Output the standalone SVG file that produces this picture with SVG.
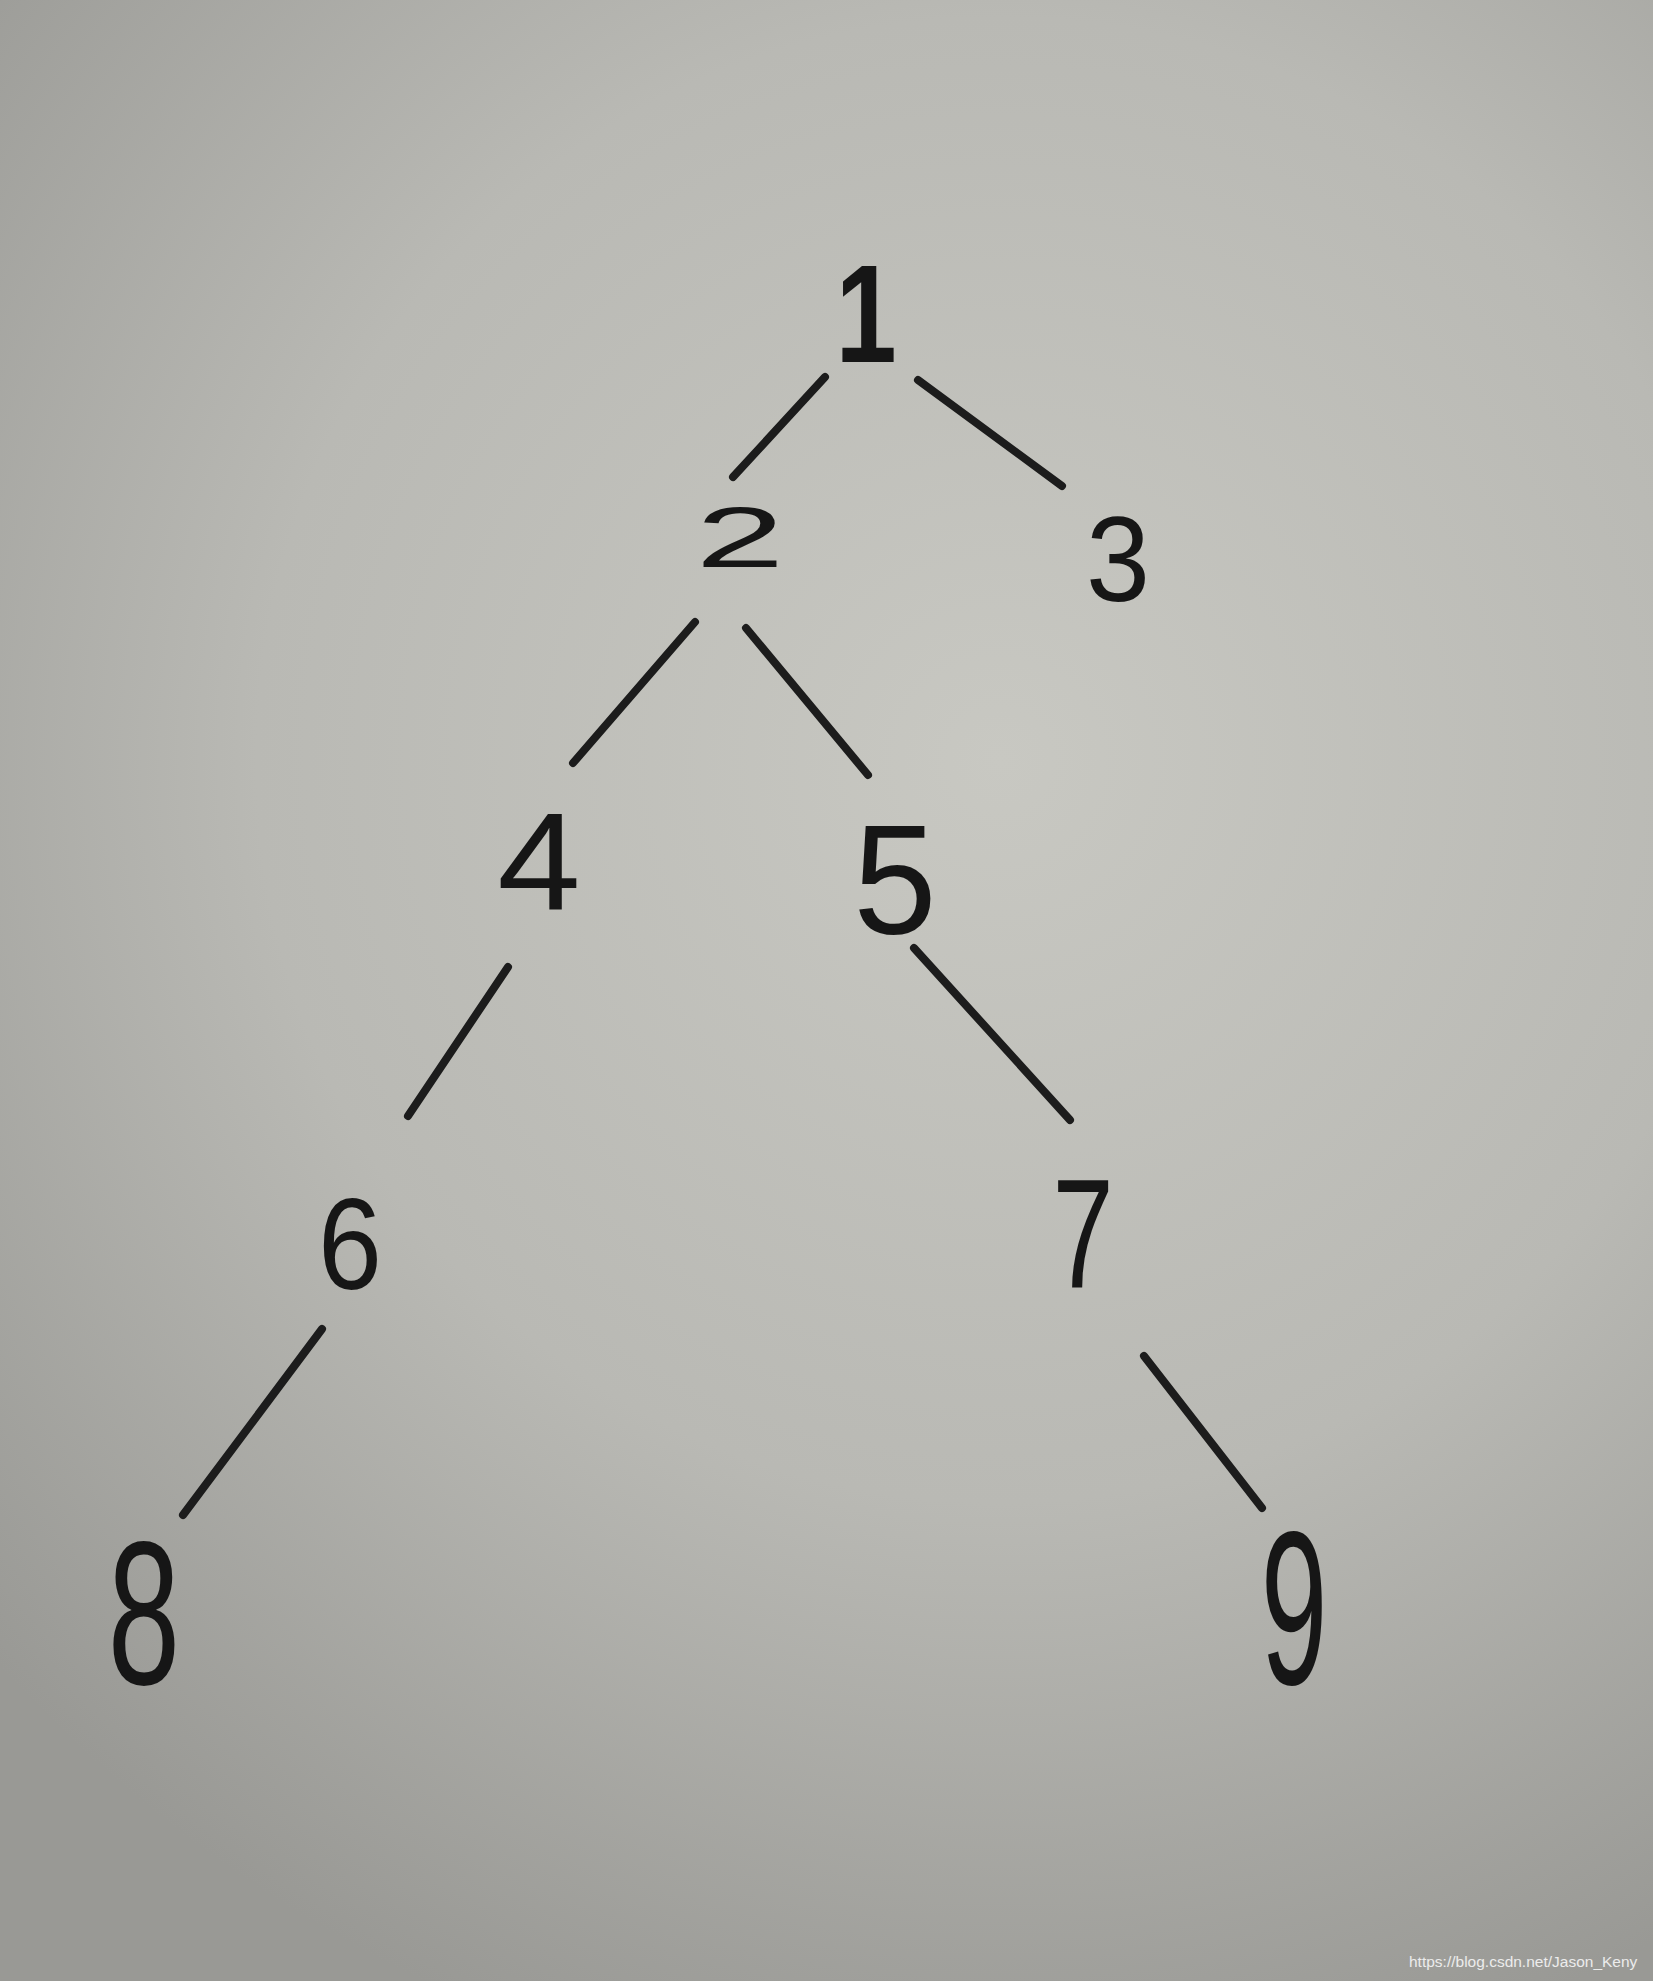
<svg xmlns="http://www.w3.org/2000/svg" width="1653" height="1981" viewBox="0 0 1653 1981">
<defs>
<radialGradient id="bg" cx="1000" cy="760" r="1350" gradientUnits="userSpaceOnUse">
<stop offset="0" stop-color="#c8c8c2"/>
<stop offset="0.55" stop-color="#b9b9b4"/>
<stop offset="1" stop-color="#999995"/>
</radialGradient>
<style>
.n text{font-family:"Liberation Sans",Arial,sans-serif;font-size:100px;fill:#161616;text-anchor:middle}
.e line{stroke:#1c1c1c;stroke-width:8;stroke-linecap:round}
.wm{font-family:"Liberation Sans",Arial,sans-serif;font-size:15.5px;fill:#ececec}
</style>
</defs>
<rect width="1653" height="1981" fill="url(#bg)"/>
<g id="connectors" class="e">
<line x1="825" y1="377" x2="733" y2="477"/>
<line x1="918" y1="380" x2="1062" y2="486"/>
<line x1="695" y1="622" x2="573" y2="763"/>
<line x1="746" y1="628" x2="868" y2="775"/>
<line x1="508" y1="967" x2="408" y2="1116"/>
<line x1="914" y1="948" x2="1070" y2="1120"/>
<line x1="322" y1="1329" x2="183" y2="1515"/>
<line x1="1144" y1="1356" x2="1262" y2="1508"/>
</g>
<g id="node1" class="n"><text transform="translate(866,312) scale(1.1,1.4)" y="35.8" font-weight="bold">1</text></g>
<g id="node2" class="n"><text transform="translate(740,537) scale(1.6,0.85)" y="35.8">2</text></g>
<g id="node3" class="n"><text transform="translate(1118,558) scale(1.15,1.2)" y="35.8">3</text></g>
<g id="node4" class="n"><text transform="translate(539,860) scale(1.5,1.4)" y="35.8">4</text></g>
<g id="node5" class="n"><text transform="translate(895,878) scale(1.5,1.55)" y="35.8">5</text></g>
<g id="node6" class="n"><text transform="translate(350,1242) scale(1.15,1.3)" y="35.8">6</text></g>
<g id="node7" class="n"><text transform="translate(1083,1232) scale(1.1,1.55)" y="35.8">7</text></g>
<g id="node8" class="n"><text transform="translate(144,1611) scale(1.3,2.05)" y="35.8">8</text></g>
<g id="node9" class="n"><text transform="translate(1294,1605) scale(1.2,2.2)" y="35.8">9</text></g>
<text class="wm" x="1409" y="1967">https://blog.csdn.net/Jason_Keny</text>
</svg>
